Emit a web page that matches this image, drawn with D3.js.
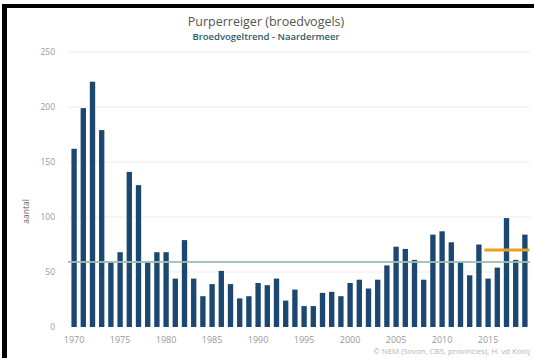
<!DOCTYPE html>
<html><head><meta charset="utf-8">
<script src="https://cdn.jsdelivr.net/npm/d3@7"></script>
<style>body{margin:0;background:#fff}svg{display:block}</style>
</head><body>
<script>
const years = d3.range(1970, 2020);
const values = [162,199,223,179,59,68,141,129,59,68,68,44,79,44,28,39,51,39,26,28,40,38,44,24,34,19,19,31,32,28,40,43,35,43,56,73,71,61,43,84,87,77,59,47,75,44,54,99,61,84];
const yTicks = [0,50,100,150,200,250];
const xTickYears = [1970,1975,1980,1985,1990,1995,2000,2005,2010,2015];
const refValue = 59;          // green reference line
const trendYears = [2015, 2019];
const trendValue = 70;        // orange line
const title = "Purperreiger (broedvogels)";
const subtitle = "Broedvogeltrend - Naardermeer";
const credit = "© NEM (Sovon, CBS, provincies), H. vd Kooij";

const W = 534, H = 358;
const svg = d3.select("body").append("svg").attr("width", W).attr("height", H);
svg.append("rect").attr("width", W).attr("height", H).attr("fill", "#fff");
// black frame (top & left)
svg.append("rect").attr("x", 2).attr("y", 4).attr("width", W - 2).attr("height", 4).attr("fill", "#000");
svg.append("rect").attr("x", 2).attr("y", 4).attr("width", 5).attr("height", H - 4).attr("fill", "#000");

const x = d3.scaleBand().domain(years).range([69.5, 529.5]).paddingInner(0.42).paddingOuter(0.21);
const y = d3.scaleLinear().domain([0, 250]).range([327, 52]);
const font = "'Open Sans', 'DejaVu Sans', sans-serif";

// gridlines
svg.append("g").selectAll("line").data(yTicks.filter(d => d > 0)).join("line")
  .attr("x1", 68).attr("x2", 530).attr("y1", d => y(d)).attr("y2", d => y(d))
  .attr("stroke", "#ececec").attr("stroke-width", 1);

// y labels
svg.append("g").selectAll("text").data(yTicks).join("text")
  .attr("x", 55).attr("y", d => y(d)).attr("dy", "0.35em").attr("text-anchor", "end")
  .attr("font-family", font).attr("font-size", 8.5).attr("fill", "#999").text(d => d);

svg.append("text").attr("transform", `translate(29,${y(105)}) rotate(-90)`)
  .attr("text-anchor", "middle").attr("font-family", font).attr("font-size", 8.5).attr("fill", "#666").text("aantal");

// bars
svg.append("g").selectAll("rect").data(years).join("rect")
  .attr("x", d => x(d)).attr("width", x.bandwidth())
  .attr("y", (d, i) => y(values[i])).attr("height", (d, i) => y(0) - y(values[i]))
  .attr("fill", "#1b4771");

// green reference line
svg.append("line").attr("x1", 68).attr("x2", 530).attr("y1", y(refValue)).attr("y2", y(refValue))
  .attr("stroke", "#9cc0b0").attr("stroke-width", 2).attr("opacity", 0.9);

// orange trend line
svg.append("line").attr("x1", x(trendYears[0]) - 1).attr("x2", x(trendYears[1]) + x.bandwidth() + 2)
  .attr("y1", y(trendValue)).attr("y2", y(trendValue))
  .attr("stroke", "#e8a21e").attr("stroke-width", 3);

// x labels
svg.append("g").selectAll("text").data(xTickYears).join("text")
  .attr("x", d => x(d) + x.bandwidth() / 2).attr("y", 343).attr("text-anchor", "middle")
  .attr("font-family", font).attr("font-size", 9).attr("fill", "#999").text(d => d);

// titles
svg.append("text").attr("x", 266).attr("y", 26).attr("text-anchor", "middle")
  .attr("font-family", font).attr("font-size", 12.5).attr("fill", "#555").text(title);
svg.append("text").attr("x", 266).attr("y", 40).attr("text-anchor", "middle")
  .attr("font-family", font).attr("font-size", 9.5).attr("font-weight", 600).attr("fill", "#2d5c6c").text(subtitle);
svg.append("text").attr("x", 530).attr("y", 354).attr("text-anchor", "end")
  .attr("font-family", font).attr("font-size", 7.8).attr("fill", "#b5b5b5").text(credit);
</script>
</body></html>
